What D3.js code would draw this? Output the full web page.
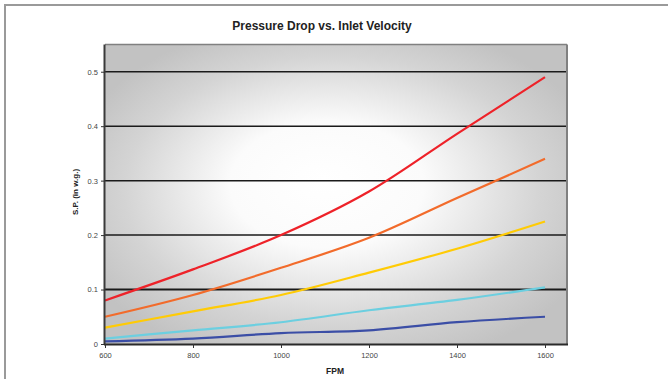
<!DOCTYPE html>
<html>
<head>
<meta charset="utf-8">
<script src="https://cdn.jsdelivr.net/npm/d3@7"></script>
<style>
html,body{margin:0;padding:0;background:#fff;}
svg{display:block;font-family:"Liberation Sans",Arial,sans-serif;}
</style>
</head>
<body>
<svg id="chart" width="668" height="379"></svg>
<script>
const fpm = [600, 800, 1000, 1200, 1400, 1600];
const seriesNames = ["s1", "s2", "s3", "s4", "s5"];
const seriesColors = ["#ee2229", "#f26b2b", "#ffcb05", "#6ccfe0", "#3b4ea6"];
const red    = [0.08, 0.137, 0.20, 0.28, 0.386, 0.49];
const orange = [0.05, 0.09, 0.14, 0.195, 0.268, 0.34];
const yellow = [0.03, 0.06, 0.09, 0.131, 0.175, 0.225];
const cyan   = [0.01, 0.025, 0.04, 0.062, 0.081, 0.104];
const blue   = [0.005, 0.01, 0.02, 0.025, 0.04, 0.05];
const seriesValues = [red, orange, yellow, cyan, blue];
const xTicks = [600, 800, 1000, 1200, 1400, 1600];
const yTicks = [0, 0.1, 0.2, 0.3, 0.4, 0.5];
const yTickLabels = ["0", "0.1", "0.2", "0.3", "0.4", "0.5"];

const svg = d3.select("#chart");
const L = 105, R = 567, T = 44.5, B = 344;
const x = d3.scaleLinear().domain([600, 1650]).range([L, R]);
const y = d3.scaleLinear().domain([0, 0.55]).range([B, T]);

// outer frame
svg.append("rect").attr("x", 5).attr("y", 5).attr("width", 700).attr("height", 400)
  .attr("fill", "none").attr("stroke", "#9a9a9a").attr("stroke-width", 2);

// gradient
const defs = svg.append("defs");
const g = defs.append("radialGradient").attr("id", "bg")
  .attr("cx", "0.5").attr("cy", "0.5").attr("r", "0.6").attr("fx", "0.47").attr("fy", "0.45");
g.append("stop").attr("offset", "0").attr("stop-color", "#ffffff");
g.append("stop").attr("offset", "0.35").attr("stop-color", "#fbfbfb");
g.append("stop").attr("offset", "0.75").attr("stop-color", "#d4d4d4");
g.append("stop").attr("offset", "1").attr("stop-color", "#c2c2c2");

svg.append("rect").attr("x", L).attr("y", T).attr("width", R - L).attr("height", B - T)
  .attr("fill", "url(#bg)");

// gridlines
svg.append("g").selectAll("line").data(yTicks.filter(d => d > 0)).join("line")
  .attr("x1", L).attr("x2", R).attr("y1", d => y(d)).attr("y2", d => y(d))
  .attr("stroke", "#1a1a1a").attr("stroke-width", d => d === 0.1 ? 2 : 1.5);

// plot border top and right
svg.append("line").attr("x1", L).attr("x2", R).attr("y1", T).attr("y2", T)
  .attr("stroke", "#808080").attr("stroke-width", 1.5);
svg.append("line").attr("x1", R).attr("x2", R).attr("y1", T).attr("y2", B)
  .attr("stroke", "#808080").attr("stroke-width", 2);

// lines
const line = d3.line().x((d, i) => x(fpm[i])).y(d => y(d)).curve(d3.curveMonotoneX);
svg.append("g").selectAll("path").data(seriesValues).join("path")
  .attr("d", d => line(d)).attr("fill", "none")
  .attr("stroke", (d, i) => seriesColors[i]).attr("stroke-width", 2.2)
  .attr("stroke-linecap", "butt");

// axes
const yAxis = d3.axisLeft(y).tickValues(yTicks).tickFormat((d, i) => yTickLabels[i]).tickSize(4).tickPadding(3);
const ya = svg.append("g").attr("transform", `translate(${L},0)`).call(yAxis);
ya.select(".domain").attr("d", `M-0.5,${T}V${B}`).attr("stroke", "#3a3a3a").attr("stroke-width", 2);
ya.selectAll(".tick line").attr("stroke", "#333");
ya.selectAll("text").attr("font-size", 7.5).attr("fill", "#444").attr("font-family", "Liberation Sans, Arial, sans-serif");

const xAxis = d3.axisBottom(x).tickValues(xTicks).tickFormat(d3.format("d")).tickSize(4).tickPadding(5);
const xa = svg.append("g").attr("transform", `translate(0,${B})`).call(xAxis);
xa.select(".domain").attr("d", `M${L - 1},0.5H${R + 1}`).attr("stroke", "#2a2a2a").attr("stroke-width", 2);
xa.selectAll(".tick line").attr("stroke", "#333");
xa.selectAll("text").attr("font-size", 7.5).attr("fill", "#444").attr("font-family", "Liberation Sans, Arial, sans-serif");

// title
svg.append("text").attr("x", 322).attr("y", 29.5).attr("text-anchor", "middle")
  .attr("font-size", 12).attr("font-weight", "bold").attr("fill", "#222")
  .text("Pressure Drop vs. Inlet Velocity");

// axis titles
svg.append("text").attr("transform", "translate(78,192) rotate(-90)").attr("text-anchor", "middle")
  .attr("font-size", 8).attr("font-weight", "bold").attr("fill", "#222")
  .text("S.P. (in w.g.)");
svg.append("text").attr("x", 335).attr("y", 374).attr("text-anchor", "middle")
  .attr("font-size", 8.5).attr("font-weight", "bold").attr("fill", "#222")
  .text("FPM");
</script>
</body>
</html>
